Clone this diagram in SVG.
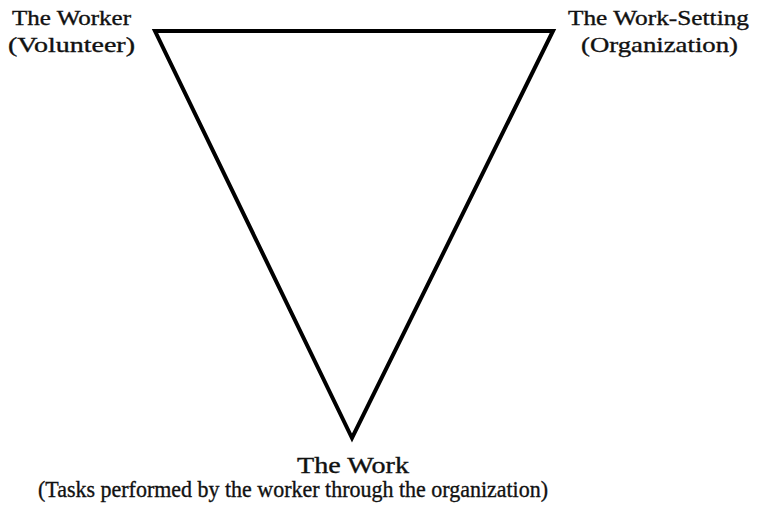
<svg xmlns="http://www.w3.org/2000/svg" width="757" height="507" viewBox="0 0 757 507">
<style>
text{font-family:"Liberation Serif","Times New Roman",serif;fill:#111;stroke:#111;stroke-width:0.35;}
.top{font-size:21px;}
.bot{font-size:23px;}
</style>
<rect width="757" height="507" fill="#fff"/>
<g id="connectors">
<polygon points="155,31 553,31 352,438" fill="none" stroke="#000" stroke-width="4" stroke-linejoin="miter"/>
</g>
<g id="worker">
<text class="top" x="12" y="25" textLength="119" lengthAdjust="spacingAndGlyphs">The Worker</text>
<text class="top" x="8" y="52" textLength="127" lengthAdjust="spacingAndGlyphs">(Volunteer)</text>
</g>
<g id="setting">
<text class="top" x="568" y="25" textLength="181" lengthAdjust="spacingAndGlyphs">The Work-Setting</text>
<text class="top" x="581" y="52" textLength="157" lengthAdjust="spacingAndGlyphs">(Organization)</text>
</g>
<g id="work">
<text class="bot" x="297" y="473" textLength="112" lengthAdjust="spacingAndGlyphs">The Work</text>
<text class="bot" x="38" y="497" textLength="510" lengthAdjust="spacingAndGlyphs">(Tasks performed by the worker through the organization)</text>
</g>
</svg>
